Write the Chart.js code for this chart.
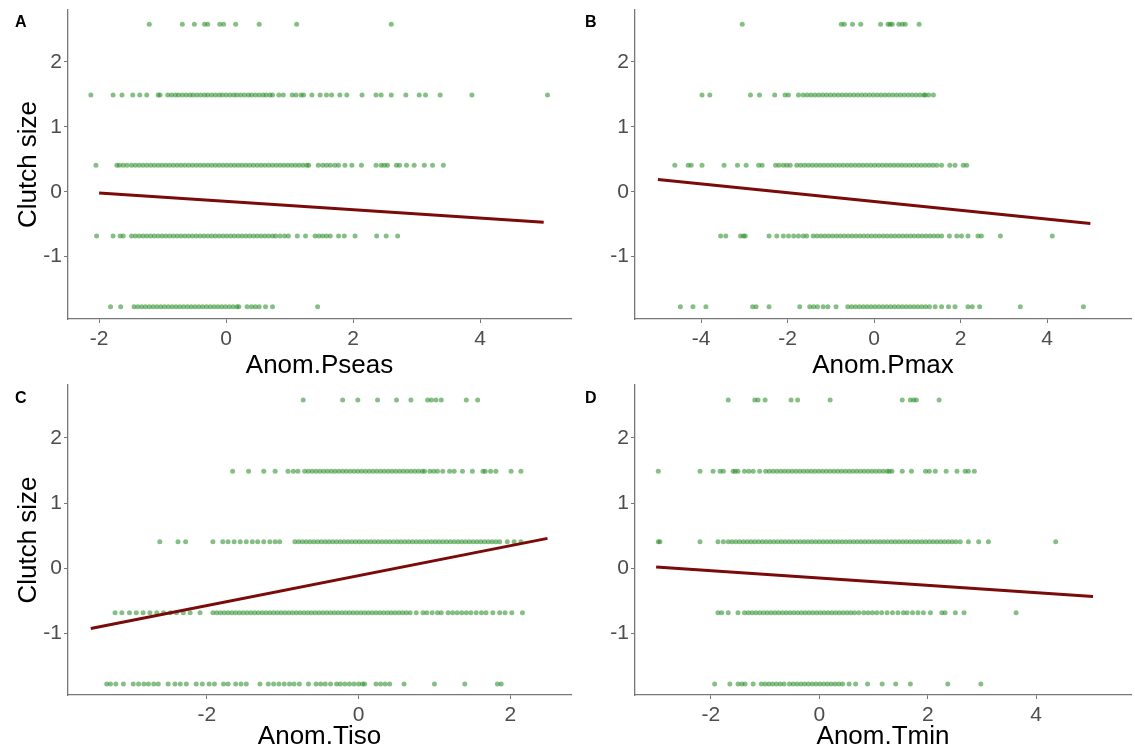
<!DOCTYPE html>
<html>
<head>
<meta charset="utf-8">
<script src="https://cdn.jsdelivr.net/npm/chart.js@4.4.0/dist/chart.umd.min.js"></script>
<style>
  body { margin: 0; background: #fff; width: 1135px; height: 751px; overflow: hidden; position: relative; font-family: "Liberation Sans", Arial, sans-serif; }
  canvas { position: absolute; }
  .tag { position: absolute; font-weight: bold; font-size: 16px; line-height: 16px; color: #000; }
</style>
</head>
<body>
<canvas id="pA" width="575" height="390" style="left:0;top:0"></canvas>
<canvas id="pB" width="560" height="390" style="left:575px;top:0"></canvas>
<canvas id="pC" width="575" height="373" style="left:0;top:378px"></canvas>
<canvas id="pD" width="560" height="373" style="left:575px;top:378px"></canvas>
<div class="tag" style="left:15px;top:14px">A</div>
<div class="tag" style="left:585px;top:14px">B</div>
<div class="tag" style="left:15px;top:390px">C</div>
<div class="tag" style="left:585px;top:390px">D</div>
<script>
// clutch size levels (scaled), same rows in every panel
var clutchLevels = [-1.77, -0.68, 0.41, 1.49, 2.58];

// x values of the points on each clutch row, bottom row first
var pseasPts = [
  [-1.82,-1.66,-1.45,-1.39,-1.33,-1.27,-1.21,-1.15,-1.09,-1.03,-0.97,-0.91,-0.85,-0.79,-0.73,-0.67,-0.61,-0.55,-0.49,-0.43,-0.37,-0.31,-0.25,-0.19,-0.13,-0.07,-0.01,0.05,0.11,0.17,0.2,0.33,0.4,0.46,0.52,0.62,0.73,1.44],
  [-2.04,-1.78,-1.67,-1.62,-1.49,-1.43,-1.37,-1.31,-1.25,-1.19,-1.13,-1.07,-1.01,-0.95,-0.89,-0.83,-0.77,-0.71,-0.65,-0.59,-0.53,-0.47,-0.41,-0.35,-0.29,-0.23,-0.17,-0.11,-0.05,0.01,0.07,0.13,0.19,0.25,0.31,0.37,0.43,0.49,0.55,0.61,0.67,0.73,0.78,0.85,0.92,0.98,1.12,1.25,1.4,1.46,1.52,1.58,1.64,1.77,1.86,2.03,2.37,2.52,2.7],
  [-2.05,-1.72,-1.68,-1.62,-1.56,-1.49,-1.43,-1.37,-1.31,-1.25,-1.19,-1.13,-1.07,-1.01,-0.95,-0.89,-0.83,-0.77,-0.71,-0.65,-0.59,-0.53,-0.47,-0.41,-0.35,-0.29,-0.23,-0.17,-0.11,-0.05,0.01,0.07,0.13,0.19,0.25,0.31,0.37,0.43,0.49,0.55,0.61,0.67,0.73,0.79,0.85,0.91,0.97,1.03,1.09,1.15,1.21,1.27,1.3,1.45,1.52,1.58,1.64,1.71,1.77,1.87,1.98,2.13,2.36,2.44,2.49,2.54,2.68,2.73,2.84,2.96,3.12,3.25,3.42],
  [-2.13,-1.78,-1.64,-1.47,-1.36,-1.25,-1.07,-1.04,-0.92,-0.86,-0.8,-0.75,-0.69,-0.63,-0.57,-0.52,-0.46,-0.4,-0.34,-0.29,-0.23,-0.17,-0.11,-0.06,0,0.06,0.12,0.17,0.23,0.29,0.35,0.4,0.46,0.52,0.58,0.63,0.69,0.73,0.83,0.9,1.04,1.1,1.18,1.22,1.35,1.48,1.58,1.66,1.79,1.9,2.14,2.36,2.44,2.6,2.83,3.04,3.14,3.37,3.87,5.06],
  [-1.21,-0.69,-0.5,-0.34,-0.29,-0.1,-0.04,0.15,0.52,1.11,2.6]
];
var pmaxPts = [
  [-4.48,-4.19,-3.89,-2.81,-2.73,-2.43,-1.72,-1.49,-1.4,-1.31,-1.18,-1.07,-0.88,-0.61,-0.52,-0.43,-0.34,-0.25,-0.16,-0.07,0.02,0.11,0.2,0.29,0.38,0.47,0.56,0.65,0.74,0.83,0.92,1.01,1.1,1.19,1.28,1.41,1.56,1.72,1.87,2.17,2.27,2.44,3.38,4.84],
  [-3.55,-3.43,-3.09,-3.02,-2.98,-2.43,-2.25,-2.1,-1.98,-1.86,-1.75,-1.64,-1.56,-1.41,-1.32,-1.23,-1.14,-1.05,-0.96,-0.87,-0.78,-0.69,-0.6,-0.51,-0.42,-0.33,-0.24,-0.15,-0.06,0.03,0.12,0.21,0.3,0.39,0.48,0.57,0.66,0.75,0.84,0.93,1.02,1.11,1.2,1.29,1.38,1.47,1.56,1.74,1.91,2.02,2.17,2.4,2.48,2.92,4.12],
  [-4.61,-4.3,-4.23,-3.98,-3.47,-3.16,-2.96,-2.67,-2.59,-2.28,-2.2,-2.1,-2.02,-1.94,-1.79,-1.7,-1.61,-1.52,-1.43,-1.34,-1.25,-1.16,-1.07,-0.98,-0.89,-0.8,-0.71,-0.62,-0.53,-0.44,-0.35,-0.26,-0.17,-0.08,0.01,0.1,0.19,0.28,0.37,0.46,0.55,0.64,0.73,0.82,0.91,1.0,1.09,1.18,1.27,1.36,1.45,1.56,1.75,1.87,2.06,2.14],
  [-3.98,-3.8,-2.86,-2.65,-2.3,-2.06,-1.98,-1.75,-1.64,-1.55,-1.46,-1.37,-1.28,-1.19,-1.1,-1.01,-0.92,-0.83,-0.74,-0.65,-0.56,-0.47,-0.38,-0.29,-0.2,-0.11,-0.02,0.07,0.16,0.25,0.34,0.43,0.52,0.61,0.7,0.79,0.88,0.97,1.06,1.15,1.18,1.26,1.37],
  [-3.05,-0.76,-0.69,-0.5,-0.31,0.15,0.32,0.37,0.42,0.57,0.65,0.72,1.04]
];
var tisoPts = [
  [-3.32,-3.27,-3.2,-3.1,-2.97,-2.9,-2.83,-2.77,-2.7,-2.64,-2.51,-2.42,-2.35,-2.27,-2.14,-2.06,-1.97,-1.9,-1.78,-1.72,-1.62,-1.55,-1.48,-1.3,-1.19,-1.12,-1.05,-0.98,-0.91,-0.85,-0.78,-0.66,-0.56,-0.5,-0.44,-0.37,-0.29,-0.24,-0.18,-0.12,-0.06,0.0,0.05,0.08,0.23,0.29,0.35,0.41,0.6,1.0,1.4,1.83,1.88],
  [-3.21,-3.12,-3.02,-2.93,-2.84,-2.75,-2.66,-2.57,-2.48,-2.4,-2.31,-2.22,-2.09,-1.92,-1.87,-1.82,-1.77,-1.72,-1.67,-1.62,-1.57,-1.52,-1.47,-1.42,-1.37,-1.32,-1.27,-1.22,-1.17,-1.12,-1.07,-1.02,-0.97,-0.92,-0.87,-0.82,-0.77,-0.72,-0.67,-0.62,-0.57,-0.52,-0.47,-0.42,-0.37,-0.32,-0.27,-0.22,-0.17,-0.12,-0.07,-0.02,0.03,0.08,0.13,0.18,0.23,0.28,0.33,0.38,0.43,0.48,0.53,0.58,0.63,0.68,0.76,0.85,0.9,0.97,1.04,1.09,1.18,1.24,1.3,1.36,1.42,1.48,1.55,1.62,1.68,1.77,1.86,1.93,2.02,2.16],
  [-2.62,-2.38,-2.28,-1.92,-1.79,-1.72,-1.64,-1.56,-1.48,-1.4,-1.33,-1.25,-1.17,-1.1,-1.04,-0.84,-0.79,-0.74,-0.69,-0.64,-0.59,-0.54,-0.49,-0.44,-0.39,-0.34,-0.29,-0.24,-0.19,-0.14,-0.09,-0.04,0.01,0.06,0.11,0.16,0.21,0.26,0.31,0.36,0.41,0.46,0.51,0.56,0.61,0.66,0.71,0.76,0.81,0.86,0.91,0.96,1.01,1.06,1.11,1.16,1.21,1.26,1.31,1.36,1.41,1.46,1.51,1.56,1.61,1.66,1.71,1.76,1.81,1.86,1.96,2.05,2.14],
  [-1.66,-1.45,-1.25,-1.1,-0.93,-0.86,-0.8,-0.71,-0.66,-0.61,-0.56,-0.51,-0.46,-0.41,-0.36,-0.31,-0.26,-0.21,-0.16,-0.11,-0.06,-0.01,0.04,0.09,0.14,0.19,0.24,0.29,0.34,0.39,0.44,0.49,0.54,0.59,0.64,0.69,0.74,0.79,0.84,0.87,0.94,0.99,1.04,1.11,1.2,1.26,1.37,1.5,1.64,1.67,1.74,1.81,2.01,2.14],
  [-0.73,-0.21,-0.01,0.25,0.5,0.69,0.91,0.96,1.02,1.09,1.42,1.57]
];
var tminPts = [
  [-1.93,-1.65,-1.5,-1.43,-1.37,-1.22,-1.07,-1.0,-0.93,-0.86,-0.79,-0.72,-0.65,-0.55,-0.48,-0.41,-0.34,-0.27,-0.2,-0.13,-0.06,0.01,0.08,0.15,0.22,0.29,0.36,0.43,0.55,0.67,0.89,1.16,1.41,1.68,2.37,2.98],
  [-1.87,-1.8,-1.68,-1.5,-1.38,-1.31,-1.24,-1.17,-1.1,-1.03,-0.96,-0.89,-0.82,-0.75,-0.68,-0.61,-0.54,-0.47,-0.4,-0.33,-0.26,-0.19,-0.12,-0.05,0.02,0.09,0.16,0.23,0.3,0.37,0.44,0.51,0.58,0.65,0.73,0.82,0.9,0.98,1.06,1.15,1.25,1.35,1.45,1.55,1.62,1.72,1.82,1.92,2.05,2.26,2.32,2.51,2.67,3.63],
  [-2.97,-2.94,-2.2,-1.87,-1.77,-1.68,-1.61,-1.54,-1.47,-1.4,-1.33,-1.26,-1.19,-1.12,-1.05,-0.98,-0.91,-0.84,-0.77,-0.7,-0.63,-0.56,-0.49,-0.42,-0.35,-0.28,-0.21,-0.14,-0.07,0,0.07,0.14,0.21,0.28,0.35,0.42,0.49,0.56,0.63,0.7,0.77,0.84,0.91,0.98,1.05,1.12,1.19,1.26,1.33,1.4,1.47,1.54,1.61,1.68,1.75,1.82,1.89,1.96,2.03,2.1,2.17,2.24,2.31,2.38,2.45,2.52,2.6,2.75,2.94,3.12,4.36],
  [-2.97,-2.2,-1.96,-1.83,-1.77,-1.59,-1.55,-1.5,-1.38,-1.3,-1.22,-1.1,-0.99,-0.92,-0.85,-0.78,-0.71,-0.64,-0.57,-0.5,-0.43,-0.36,-0.29,-0.22,-0.15,-0.08,-0.01,0.06,0.13,0.2,0.27,0.34,0.41,0.48,0.55,0.62,0.69,0.76,0.83,0.9,0.97,1.04,1.11,1.18,1.25,1.29,1.34,1.53,1.7,1.96,2.03,2.14,2.34,2.54,2.69,2.75,2.86],
  [-1.68,-1.19,-1.13,-1.0,-0.52,-0.4,0.2,1.53,1.68,1.74,1.79,2.21]
];

// fitted lines: [x, y] at both ends
var pseasFit = [[-2, -0.02], [5, -0.47]];
var pmaxFit = [[-5, 0.19], [5, -0.49]];
var tisoFit = [[-3.53, -0.92], [2.49, 0.46]];
var tminFit = [[-3.01, 0.02], [5.05, -0.43]];

var xTitles = ['Anom.Pseas', 'Anom.Pmax', 'Anom.Tiso', 'Anom.Tmin'];
var yTitle = 'Clutch size';

Chart.defaults.font.family = '"Liberation Sans", Arial, sans-serif';

function makePanel(id, pts, fit, xTitle, o) {
  var points = [];
  for (var i = 0; i < pts.length; i++) {
    for (var j = 0; j < pts[i].length; j++) {
      points.push({x: pts[i][j], y: clutchLevels[i]});
    }
  }
  var ctx = document.getElementById(id).getContext('2d');
  return new Chart(ctx, {
    type: 'scatter',
    data: {
      datasets: [{
        type: 'line',
        data: fit.map(function(p) { return {x: p[0], y: p[1]}; }),
        borderColor: '#7b0a0a',
        borderWidth: 3,
        pointRadius: 0,
        fill: false,
        order: 0
      }, {
        data: points,
        backgroundColor: 'rgba(34,139,34,0.55)',
        borderWidth: 0,
        pointRadius: 2.5,
        order: 1
      }]
    },
    options: {
      responsive: false,
      animation: false,
      devicePixelRatio: 1,
      layout: { padding: o.pad },
      plugins: { legend: { display: false }, tooltip: { enabled: false } },
      scales: {
        x: {
          type: 'linear',
          min: o.xmin, max: o.xmax,
          ticks: { stepSize: 2, includeBounds: false, color: '#4d4d4d', font: { size: 21 }, padding: 4, maxRotation: 0 },
          grid: { drawOnChartArea: false, drawTicks: true, tickLength: 4, color: '#777' },
          border: { display: true, color: '#777', width: 1.3 },
          title: { display: true, text: xTitle, color: '#000', font: { size: 26, lineHeight: 1 }, padding: 0 },
          afterFit: function(s) { s.height = o.xh; s.paddingLeft = 0; s.paddingRight = 0; }
        },
        y: {
          type: 'linear',
          min: o.ymin, max: o.ymax,
          ticks: { stepSize: 1, includeBounds: false, color: '#4d4d4d', font: { size: 21 }, padding: 2 },
          grid: { drawOnChartArea: false, drawTicks: true, tickLength: 4, color: '#777' },
          border: { display: true, color: '#777', width: 1.3 },
          title: { display: o.yTitle, text: yTitle, color: '#000', font: { size: 26, lineHeight: 1 }, padding: 0 },
          afterFit: function(s) { s.width = o.yw; s.paddingTop = 0; s.paddingBottom = 0; }
        }
      }
    }
  });
}

makePanel('pA', pseasPts, pseasFit, xTitles[0], {
  xmin: -2.49, xmax: 5.43, ymin: -1.96, ymax: 2.8,
  pad: {top: 10, right: 3, bottom: 11, left: 16}, yw: 52, xh: 60, yTitle: true
});
makePanel('pB', pmaxPts, pmaxFit, xTitles[1], {
  xmin: -5.53, xmax: 5.94, ymin: -1.96, ymax: 2.8,
  pad: {top: 10, right: 2, bottom: 11, left: 0}, yw: 60, xh: 60, yTitle: false
});
makePanel('pC', tisoPts, tisoFit, xTitles[2], {
  xmin: -3.83, xmax: 2.8, ymin: -1.94, ymax: 2.81,
  pad: {top: 7, right: 3, bottom: 1, left: 16}, yw: 52, xh: 55, yTitle: true
});
makePanel('pD', tminPts, tminFit, xTitles[3], {
  xmin: -3.4, xmax: 5.75, ymin: -1.94, ymax: 2.81,
  pad: {top: 7, right: 2, bottom: 1, left: 0}, yw: 60, xh: 55, yTitle: false
});
</script>
</body>
</html>
